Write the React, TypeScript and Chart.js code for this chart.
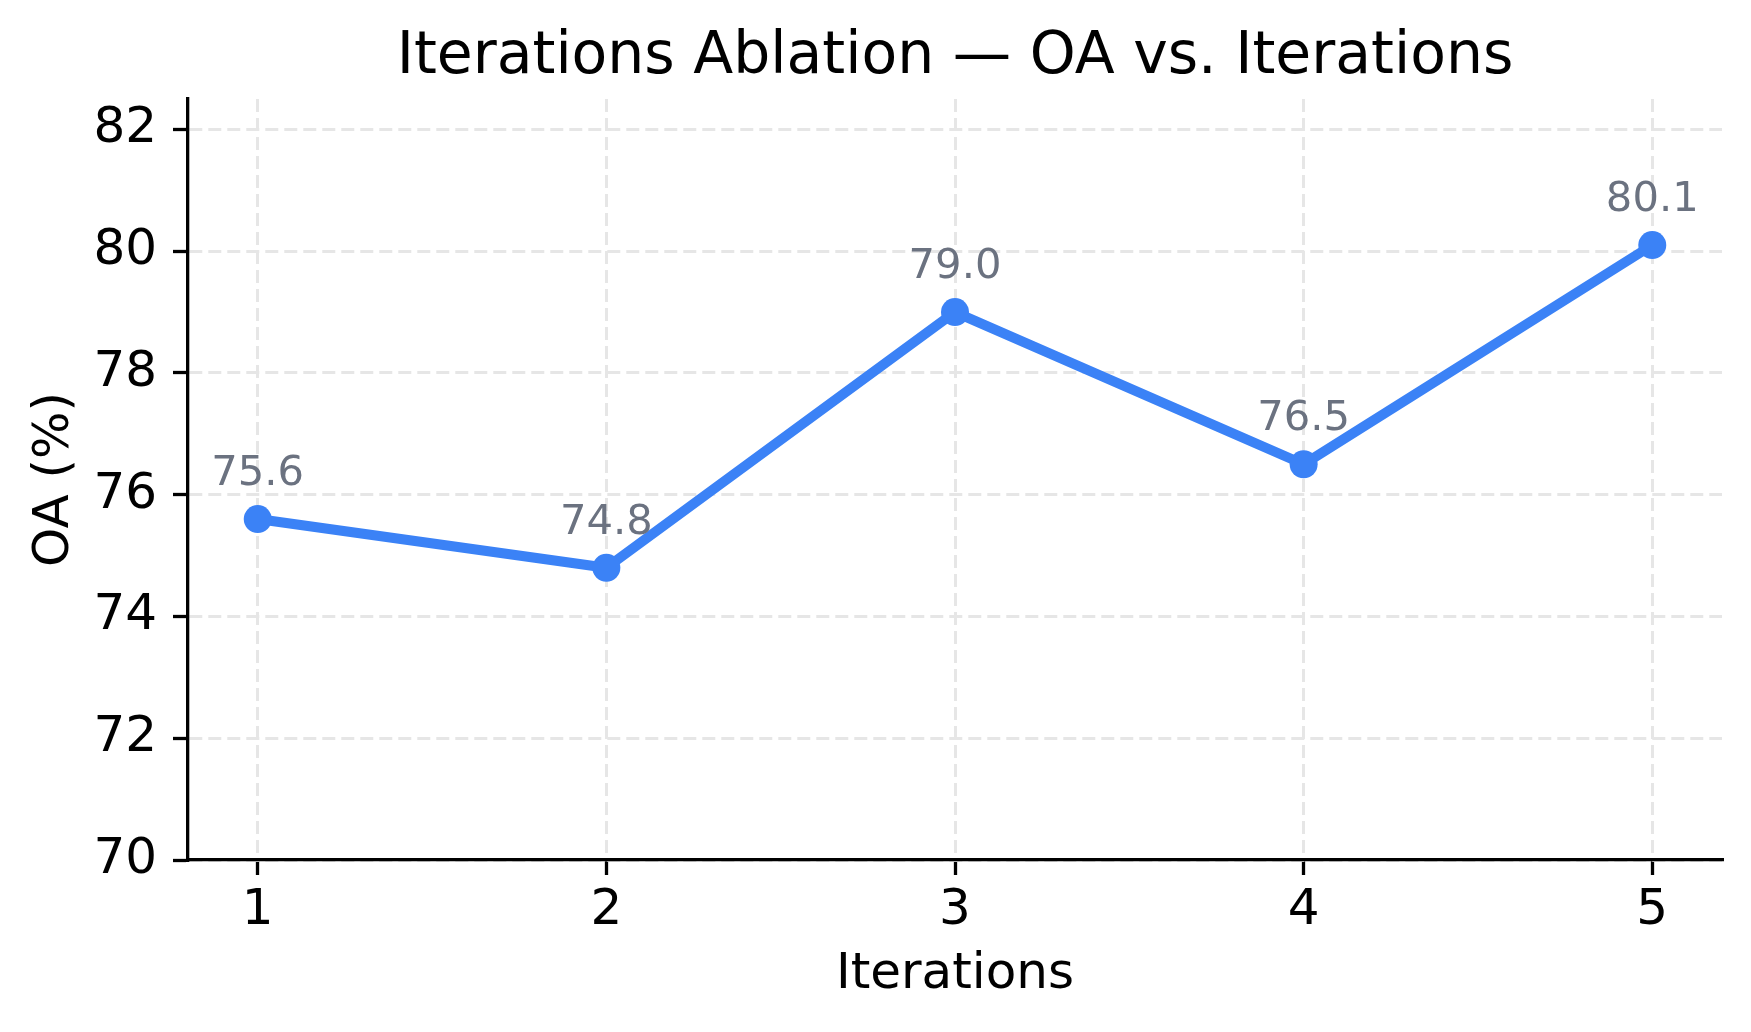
import React, { useEffect, useRef } from "react";
import { Chart, registerables } from "chart.js";

Chart.register(...registerables);

const ITERATIONS = [1, 2, 3, 4, 5];
const OA_VALUES = [75.6, 74.8, 79.0, 76.5, 80.1];
const Y_TICKS = [70, 72, 74, 76, 78, 80, 82];
const TITLE = "Iterations Ablation — OA vs. Iterations";
const X_LABEL = "Iterations";
const Y_LABEL = "OA (%)";

const W = 1751;
const H = 1032;
const FONT = "'DejaVu Sans', sans-serif";
const BLUE = "#3b82f6";
const LABEL_GRAY = "#6b7280";
const GRID = "#e6e6e6";

export default function App() {
  const ref = useRef<HTMLCanvasElement>(null);

  useEffect(() => {
    document.body.style.margin = "0";
    const canvas = ref.current!;

    const titlePlugin = {
      id: "customTitle",
      afterDraw(chart: any) {
        const { ctx, chartArea } = chart;
        ctx.save();
        ctx.font = `58.4px ${FONT}`;
        ctx.fillStyle = "#000";
        ctx.textAlign = "center";
        ctx.textBaseline = "alphabetic";
        ctx.fillText(TITLE, (chartArea.left + chartArea.right) / 2, 73);
        ctx.restore();
      },
    };

    const valueLabels = {
      id: "valueLabels",
      afterDatasetsDraw(chart: any) {
        const { ctx } = chart;
        const meta = chart.getDatasetMeta(0);
        ctx.save();
        ctx.font = `41.7px ${FONT}`;
        ctx.fillStyle = LABEL_GRAY;
        ctx.textAlign = "center";
        ctx.textBaseline = "alphabetic";
        meta.data.forEach((pt: any, i: number) => {
          ctx.fillText(OA_VALUES[i].toFixed(1), pt.x, pt.y - 34);
        });
        ctx.restore();
      },
    };

    const chart = new Chart(canvas, {
      type: "line",
      data: {
        datasets: [
          {
            label: "OA",
            data: ITERATIONS.map((x, i) => ({ x, y: OA_VALUES[i] })),
            borderColor: BLUE,
            backgroundColor: BLUE,
            borderWidth: 10,
            borderJoinStyle: "round",
            pointRadius: 14,
            pointBorderWidth: 0,
            pointBackgroundColor: BLUE,
            tension: 0,
            fill: false,
          },
        ],
      },
      options: {
        animation: false,
        responsive: false,
        devicePixelRatio: 1,
        layout: { padding: { top: 99, right: 29, bottom: 0, left: 0 } },
        plugins: {
          legend: { display: false },
          title: { display: false },
          tooltip: { enabled: false },
        },
        scales: {
          x: {
            type: "linear",
            min: 0.8,
            max: 5.2,
            afterBuildTicks: (s: any) => {
              s.ticks = ITERATIONS.map((v) => ({ value: v }));
            },
            afterFit: (s: any) => {
              s.height = H - 860;
            },
            ticks: {
              callback: (v: any) => String(v),
              font: { family: FONT, size: 50 },
              color: "#000",
              padding: 6,
              autoSkip: false,
              maxRotation: 0,
            },
            grid: {
              color: GRID,
              lineWidth: 3,
              tickColor: "#000",
              tickWidth: 3.3,
              tickLength: 15,
            },
            border: { color: "#000", width: 3.3, dash: [13, 6] },
            title: {
              display: true,
              text: X_LABEL,
              font: { family: FONT, size: 50 },
              color: "#000",
              padding: { top: 0, bottom: 27 },
            },
          },
          y: {
            type: "linear",
            min: 70,
            max: 82.5,
            afterBuildTicks: (s: any) => {
              s.ticks = Y_TICKS.map((v) => ({ value: v }));
            },
            afterFit: (s: any) => {
              s.width = 188;
            },
            ticks: {
              callback: (v: any) => String(v),
              font: { family: FONT, size: 50 },
              color: "#000",
              padding: 16,
            },
            grid: {
              color: GRID,
              lineWidth: 3,
              tickColor: "#000",
              tickWidth: 3.3,
              tickLength: 15,
            },
            border: { color: "#000", width: 3.3, dash: [13, 6] },
            title: {
              display: true,
              text: Y_LABEL,
              font: { family: FONT, size: 50 },
              color: "#000",
              padding: { top: 25, bottom: 0 },
            },
          },
        },
      },
      plugins: [titlePlugin, valueLabels],
    } as any);

    return () => chart.destroy();
  }, []);

  return (
    <div style={{ position: "absolute", left: 0, top: 0, width: W, height: H, background: "#fff" }}>
      <canvas ref={ref} width={W} height={H} style={{ width: W, height: H, display: "block" }} />
    </div>
  );
}
